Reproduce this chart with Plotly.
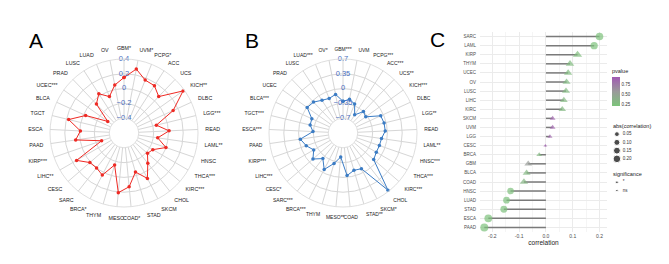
import math
import plotly.graph_objects as go

# ---------------- data ----------------
A_labels = ["GBM*", "UVM*", "PCPG*", "ACC", "UCS", "KICH**", "DLBC", "LGG***", "READ", "LAML**",
            "HNSC", "THCA***", "KIRC***", "CHOL", "SKCM", "STAD", "COAD*", "MESO", "THYM", "BRCA*",
            "SARC", "CESC", "LIHC**", "KIRP***", "PAAD", "ESCA", "TGCT", "BLCA", "UCEC***", "PRAD",
            "LUSC", "LUAD", "OV"]
A_values = [0.15, 0.28, 0.17, 0.16, 0.08, 0.38, 0.13, -0.15, 0.01, -0.14,
            0.00, -0.15, -0.18, -0.08, 0.09, -0.05, 0.13, 0.21, -0.15, 0.04,
            0.00, 0.01, 0.14, -0.28, 0.06, -0.01, 0.17, -0.03, -0.33, -0.06,
            0.03, -0.07, 0.06]
A_ticks = [-0.4, -0.2, 0, 0.2, 0.4]
A_ticktext = ["\u22120.4", "\u22120.2", "0", "0.2", "0.4"]

B_labels = ["GBM***", "UVM", "PCPG***", "ACC***", "UCS**", "KICH***", "DLBC", "LGG**", "READ", "LAML**",
            "HNSC***", "THCA***", "KIRC***", "CHOL", "SKCM*", "STAD**", "COAD", "MESO**", "THYM", "BRCA***",
            "SARC***", "CESC*", "LIHC***", "KIRP***", "PAAD", "ESCA***", "TGCT***", "BLCA***", "UCEC", "PRAD",
            "LUSC", "LUAD***", "OV*"]
B_values = [-0.30, -0.24, -0.31, -0.54, -0.35, -0.39, -0.07, -0.05, -0.05, -0.13,
            -0.14, -0.14, -0.09, 0.67, -0.10, -0.13, -0.04, -0.48, -0.30, -0.08,
            -0.28, -0.11, -0.25, -0.13, -0.03, -0.34, -0.25, -0.24, -0.01, -0.04,
            -0.13, -0.17, -0.12]
B_ticks = [-0.7, -0.35, 0, 0.35, 0.7]
B_ticktext = ["\u22120.7", "\u22120.35", "0", "0.35", "0.7"]

C_cancers = ["SARC", "LAML", "KIRP", "THYM", "UCEC", "OV", "LUSC", "LIHC", "KIRC", "SKCM", "UVM",
             "LGG", "CESC", "BRCA", "GBM", "BLCA", "COAD", "HNSC", "LUAD", "STAD", "ESCA", "PAAD"]
C_corr = [0.20, 0.18, 0.118, 0.09, 0.083, 0.077, 0.075, 0.067, 0.061, 0.025, 0.025,
          0.015, -0.002, -0.025, -0.066, -0.072, -0.082, -0.132, -0.147, -0.157, -0.215, -0.23]
C_pvalue = [0.22, 0.22, 0.25, 0.27, 0.27, 0.28, 0.29, 0.30, 0.30, 0.88, 0.88,
            0.85, 0.93, 0.30, 0.55, 0.30, 0.32, 0.24, 0.23, 0.23, 0.22, 0.22]
C_sig = ["*", "*", "ns", "ns", "ns", "ns", "ns", "ns", "ns", "ns", "ns",
         "ns", "ns", "ns", "ns", "ns", "ns", "*", "*", "*", "*", "*"]
C_xticks = [-0.2, -0.1, 0.0, 0.1, 0.2]
C_xticktext = ["-0.2", "-0.1", "0.0", "0.1", "0.2"]
pvalue_ticks = [0.25, 0.5, 0.75]
pvalue_ticktext = ["0.25", "0.50", "0.75"]
size_legend_vals = [0.05, 0.10, 0.15, 0.20]
size_legend_text = ["0.05", "0.10", "0.15", "0.20"]
sig_legend_text = ["*", "ns"]

FONT = "Liberation Sans, Arial, sans-serif"
GRID = "#d6d6d6"
SYMBOL = {"*": "circle", "ns": "triangle-up"}
SYMSCALE = {"*": 1.0, "ns": 1.3}


def msize(v, s="*"):
    return (2.0 + 12.5 * math.sqrt(abs(v))) * SYMSCALE[s]


fig = go.Figure()

# ---------------- radar A ----------------
fig.add_trace(go.Scatterpolar(
    r=A_values + A_values[:1], theta=A_labels + A_labels[:1], mode="lines+markers",
    line=dict(color="#ee2a24", width=1), marker=dict(color="#ee2a24", size=3.5),
    subplot="polar", showlegend=False, hoverinfo="skip"))
fig.add_trace(go.Scatterpolar(
    r=A_ticks, theta=[A_labels[0]] * len(A_ticks), mode="text", text=A_ticktext,
    textfont=dict(color="#4a6fc0", size=7.5, family=FONT), subplot="polar",
    showlegend=False, hoverinfo="skip"))

# ---------------- radar B ----------------
fig.add_trace(go.Scatterpolar(
    r=B_values + B_values[:1], theta=B_labels + B_labels[:1], mode="lines+markers",
    line=dict(color="#3b7cc4", width=1), marker=dict(color="#3b7cc4", size=3.5),
    subplot="polar2", showlegend=False, hoverinfo="skip"))
fig.add_trace(go.Scatterpolar(
    r=B_ticks, theta=[B_labels[0]] * len(B_ticks), mode="text", text=B_ticktext,
    textfont=dict(color="#4a6fc0", size=7.5, family=FONT), subplot="polar2",
    showlegend=False, hoverinfo="skip"))

# ---------------- lollipop C ----------------
seg_x, seg_y = [], []
for c, v in zip(C_cancers, C_corr):
    seg_x += [0, v, None]
    seg_y += [c, c, None]
fig.add_trace(go.Scatter(x=seg_x, y=seg_y, mode="lines", line=dict(color="#7a7a7a", width=1.5),
                         xaxis="x", yaxis="y", showlegend=False, hoverinfo="skip"))
fig.add_trace(go.Scatter(
    x=C_corr, y=C_cancers, mode="markers", xaxis="x", yaxis="y", showlegend=False,
    marker=dict(color=C_pvalue, cmin=0.2, cmax=0.95,
                colorscale=[[0, "#7cc47a"], [0.5, "#9a9a9a"], [1, "#a159b3"]],
                size=[msize(v, s) for v, s in zip(C_corr, C_sig)],
                symbol=[SYMBOL[s] for s in C_sig],
                line=dict(width=0),
                colorbar=dict(title=dict(text="pvalue", side="top",
                                         font=dict(size=5.5, family=FONT, color="#222")),
                              x=612 / 669, xanchor="left", y=1 - 66 / 264, yanchor="top",
                              len=40 / 264, lenmode="fraction", thickness=8, outlinewidth=0,
                              tickvals=pvalue_ticks, ticktext=pvalue_ticktext,
                              tickfont=dict(size=4.5, family=FONT, color="#333"), ticks="",
                              xpad=0, ypad=0))))

# ---------------- manual legends (size + significance) ----------------
fig.add_trace(go.Scatter(x=[0] * len(size_legend_vals), y=size_legend_text, mode="markers",
                         marker=dict(color="black", size=[msize(v) for v in size_legend_vals]),
                         xaxis="x2", yaxis="y2", showlegend=False, hoverinfo="skip"))
fig.add_trace(go.Scatter(x=[0.9] * len(size_legend_text), y=size_legend_text, mode="text",
                         text=size_legend_text, textposition="middle right",
                         textfont=dict(size=4.5, family=FONT, color="#333"),
                         xaxis="x2", yaxis="y2", showlegend=False, hoverinfo="skip"))
fig.add_trace(go.Scatter(x=[0] * len(sig_legend_text), y=sig_legend_text, mode="markers",
                         marker=dict(color="black", size=[msize(0.003, s) for s in sig_legend_text],
                                     symbol=[SYMBOL[s] for s in sig_legend_text]),
                         xaxis="x2", yaxis="y3", showlegend=False, hoverinfo="skip"))
fig.add_trace(go.Scatter(x=[0.9] * len(sig_legend_text), y=sig_legend_text, mode="text",
                         text=sig_legend_text, textposition="middle right",
                         textfont=dict(size=4.5, family=FONT, color="#333"),
                         xaxis="x2", yaxis="y3", showlegend=False, hoverinfo="skip"))


def polar_angular(fsize):
    return dict(rotation=90, direction="clockwise", type="category",
                tickfont=dict(size=fsize, family=FONT, color="#222"),
                gridcolor=GRID, gridwidth=0.8, linecolor=GRID, linewidth=0.8,
                showline=True, ticks="outside", ticklen=6, tickcolor="rgba(0,0,0,0)")


hidden = dict(visible=False, fixedrange=True)

fig.update_layout(
    width=669, height=264, margin=dict(l=0, r=0, t=0, b=0, autoexpand=False),
    paper_bgcolor="white", plot_bgcolor="white",
    font=dict(family=FONT), showlegend=False,
    polar=dict(domain=dict(x=[50 / 669, 198 / 669], y=[57 / 264, 205 / 264]),
               hole=0.2, bgcolor="white", angularaxis=polar_angular(5.3),
               radialaxis=dict(range=[-0.4, 0.4], tickvals=A_ticks, showticklabels=False,
                               showline=False, ticks="", gridcolor=GRID, gridwidth=0.8)),
    polar2=dict(domain=dict(x=[269 / 669, 417 / 669], y=[57 / 264, 205 / 264]),
                hole=0.2, bgcolor="white", angularaxis=polar_angular(5.0),
                radialaxis=dict(range=[-0.7, 0.7], tickvals=B_ticks, showticklabels=False,
                                showline=False, ticks="", gridcolor=GRID, gridwidth=0.8)),
    xaxis=dict(domain=[480 / 669, 607 / 669], range=[-0.246, 0.228], tickvals=C_xticks,
               ticktext=C_xticktext, tickfont=dict(size=5, family=FONT, color="#4d4d4d"),
               gridcolor="#ebebeb", gridwidth=0.7, zeroline=False, showline=False, ticks="",
               automargin=False,
               minor=dict(showgrid=True, dtick=0.05, tick0=0.05, gridcolor="#f5f5f5", gridwidth=0.5),
               title=dict(text="correlation", font=dict(size=6.5, family=FONT, color="#222"), standoff=2)),
    yaxis=dict(domain=[32 / 264, 232 / 264], type="category", categoryarray=C_cancers[::-1],
               range=[-0.5, len(C_cancers) - 0.5], automargin=False,
               tickfont=dict(size=4.5, family=FONT, color="#4d4d4d"),
               gridcolor="#ebebeb", gridwidth=0.7, zeroline=False, showline=False, ticks="",
               ticklabelstandoff=3),
    xaxis2=dict(domain=[613 / 669, 669 / 669], range=[-0.6, 8], anchor="y2", **hidden),
    yaxis2=dict(domain=[1 - 163 / 264, 1 - 130 / 264], type="category",
                categoryarray=size_legend_text[::-1], range=[-0.5, 3.5], anchor="x2", **hidden),
    yaxis3=dict(domain=[1 - 195 / 264, 1 - 178 / 264], type="category",
                categoryarray=sig_legend_text[::-1], range=[-0.5, 1.5], anchor="x2", **hidden),
    annotations=[
        dict(text="A", x=27 / 669, y=1 - 27 / 264, xref="paper", yref="paper", showarrow=False,
             font=dict(size=21, family=FONT, color="black")),
        dict(text="B", x=252 / 669, y=1 - 27 / 264, xref="paper", yref="paper", showarrow=False,
             font=dict(size=21, family=FONT, color="black")),
        dict(text="C", x=447 / 669, y=1 - 26 / 264, xref="paper", yref="paper", showarrow=False,
             font=dict(size=21, family=FONT, color="black")),
        dict(text="abs(correlation)", x=611 / 669, y=1 - 126 / 264, xref="paper", yref="paper",
             xanchor="left", showarrow=False, font=dict(size=5.5, family=FONT, color="#222")),
        dict(text="significance", x=611 / 669, y=1 - 174 / 264, xref="paper", yref="paper",
             xanchor="left", showarrow=False, font=dict(size=5.5, family=FONT, color="#222")),
    ],
)

fig.write_html("out.html")
